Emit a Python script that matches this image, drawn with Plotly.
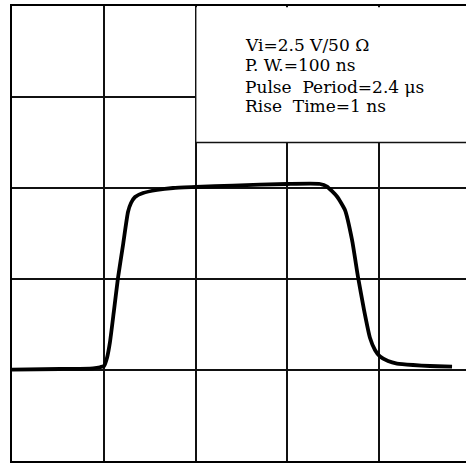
import plotly.graph_objects as go

# Oscilloscope trace, in grid divisions (x: horizontal div, y: vertical div)
t_div = [0, 0.523, 0.883, 0.959, 1.003, 1.035, 1.068, 1.112, 1.155, 1.210, 1.264,
         1.297, 1.341, 1.428, 1.580, 1.755, 2.005, 2.409, 2.997, 3.357, 3.433,
         3.542, 3.629, 3.706, 3.771, 3.837, 3.902, 3.956, 4.011, 4.098, 4.196,
         4.371, 4.556, 4.796]
v_div = [1.005, 1.011, 1.019, 1.030, 1.044, 1.132, 1.308, 1.659, 2.011, 2.374, 2.736,
         2.835, 2.901, 2.945, 2.978, 3.000, 3.011, 3.027, 3.044, 3.044, 3.016,
         2.907, 2.758, 2.429, 2.022, 1.659, 1.352, 1.220, 1.148, 1.099, 1.071,
         1.055, 1.044, 1.038]

labels = ["Vi=2.5 V/50 Ω", "P. W.=100 ns", "Pulse  Period=2.4 μs", "Rise  Time=1 ns"]

fig = go.Figure()
fig.add_trace(go.Scatter(x=t_div, y=v_div, mode="lines",
                         line=dict(color="black", width=3.8, shape="spline", smoothing=0.5),
                         hoverinfo="skip", showlegend=False))

# white text panel covering the upper-right grid area
fig.add_shape(type="rect", x0=2.01, x1=5.2, y0=3.5, y1=4.985, xref="x", yref="y",
              fillcolor="white", line=dict(width=0), layer="between")
fig.add_shape(type="line", x0=2, x1=5.2, y0=3.5, y1=3.5, xref="x", yref="y",
              line=dict(color="#111", width=1.5), layer="between")

line_y = [4.575, 4.35, 4.115, 3.9]
for txt, yy in zip(labels, line_y):
    fig.add_annotation(x=2.52, y=yy, xref="x", yref="y", text=txt, showarrow=False,
                       xanchor="left", yanchor="middle",
                       font=dict(family="DejaVu Serif", size=17, color="black"))

fig.update_xaxes(range=[0, 4.948], dtick=1, tick0=0, showgrid=True, gridcolor="#111",
                 gridwidth=1.5, zeroline=False, showticklabels=False, ticks="",
                 showline=True, linecolor="black", linewidth=2, mirror=True)
fig.update_yaxes(range=[0, 5], dtick=1, tick0=0, showgrid=True, gridcolor="#111",
                 gridwidth=1.5, zeroline=False, showticklabels=False, ticks="",
                 showline=True, linecolor="black", linewidth=2, mirror=False)
fig.update_layout(width=466, height=464, margin=dict(l=12, r=0, t=6, b=3),
                  paper_bgcolor="white", plot_bgcolor="white")
fig.write_html("out.html", config={"displayModeBar": False},
               post_script="document.body.style.margin='0px';document.body.style.overflow='hidden';")
